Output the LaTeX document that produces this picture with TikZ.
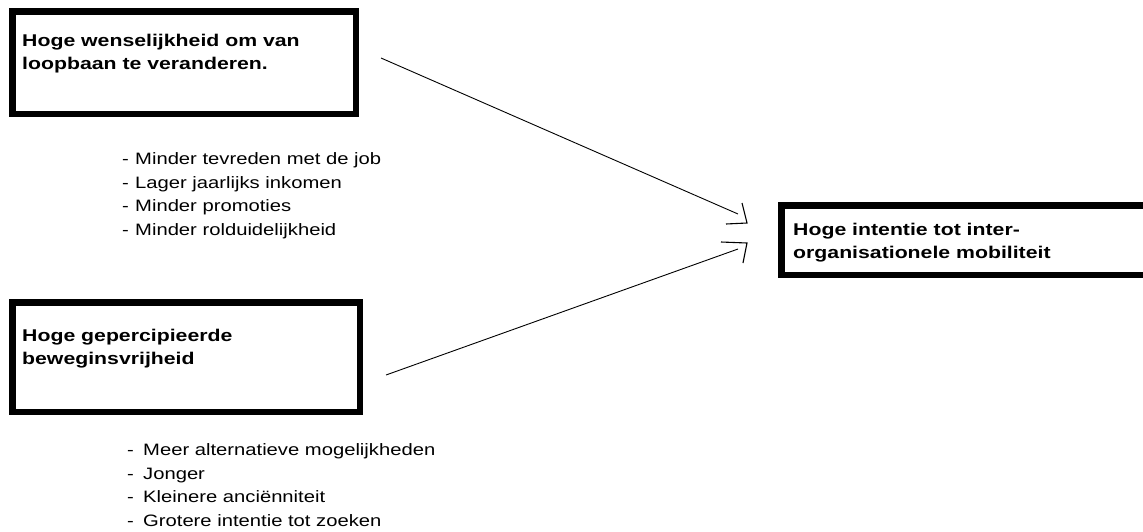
\documentclass[tikz,border=0pt]{standalone}
\usepackage{fontspec}
\usetikzlibrary{calc}
\newfontfamily\headfont[FakeStretch=1.25]{Liberation Sans}
\newfontfamily\listfont[FakeStretch=1.225]{Liberation Sans}
\begin{document}
\begin{tikzpicture}[x=1pt,y=-1pt,
  factor/.style={draw=black,line width=6.5pt,fill=white},
  headtext/.style={anchor=base west,inner sep=0pt,align=left,
    font=\headfont\bfseries\fontsize{17}{23}\selectfont},
  listtext/.style={anchor=base west,inner sep=0pt,align=left,
    font=\listfont\fontsize{16.5}{23.4}\selectfont},
  shaft/.style={draw=black,line width=0.9pt},
  barb/.style={draw=black,line width=1.1pt}]
\useasboundingbox (0,0) rectangle (1143,531);
\clip (0,0) rectangle (1143,531);

% framed factors
\draw[factor] (12.25,11.25) rectangle (355.75,113.75);
\draw[factor] (12.25,302.25) rectangle (359.75,411.75);
\draw[factor] (781.25,205.25) rectangle (1170,274.75);

% titles of the three factors (anchored at the baseline of their last line)
\node[headtext] (wens) at (22,69) {Hoge wenselijkheid om van\\loopbaan te veranderen.};
\node[headtext] (vrij) at (22,364) {Hoge gepercipieerde\\beweginsvrijheid};
\node[headtext] (mob) at (793,258) {Hoge intentie tot inter-\\organisationele mobiliteit};

% determinants listed under each factor
\newcommand{\itemA}[1]{\makebox[13pt][l]{-}#1}
\newcommand{\itemB}[1]{\makebox[16pt][l]{-}#1}
\node[listtext] (lijstA) at (122,235) {\itemA{Minder tevreden met de job}\\\itemA{Lager jaarlijks inkomen}\\\itemA{Minder promoties}\\\itemA{Minder rolduidelijkheid}};
\node[listtext] (lijstB) at (127,526) {\itemB{Meer alternatieve mogelijkheden}\\\itemB{Jonger}\\\itemB{Kleinere anciënniteit}\\\itemB{Grotere intentie tot zoeken}};

% arrows towards the outcome
\coordinate (a1s) at (381,58);
\coordinate (a1e) at (738,214);
\coordinate (t1) at (747,223);
\coordinate (a2s) at (386,375);
\coordinate (a2e) at (738,249);
\coordinate (t2) at (747,243);
\path[shaft] (a1s) -- (a1e);
\path[shaft] (a2s) -- (a2e);
\path[barb] ($(t1)+(-5,-20)$) -- (t1) -- ($(t1)+(-21,1)$);
\path[barb] ($(t2)+(-26,-1)$) -- (t2) -- ($(t2)+(-4,20)$);
\end{tikzpicture}
\end{document}
